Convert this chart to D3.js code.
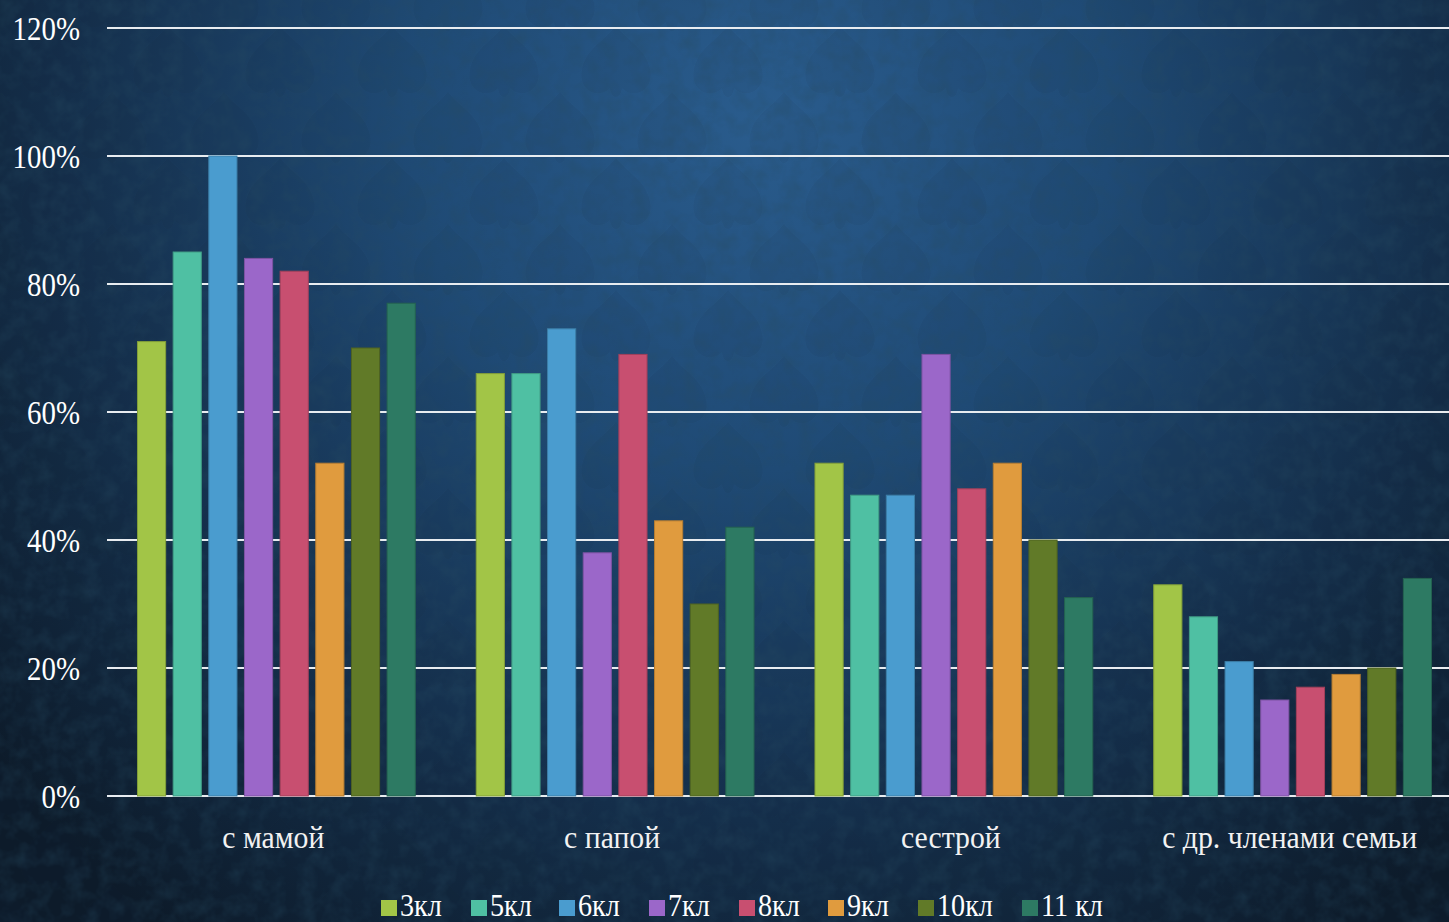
<!DOCTYPE html>
<html>
<head>
<meta charset="utf-8">
<script src="https://cdn.jsdelivr.net/npm/d3@7/dist/d3.min.js"></script>
<style>
  html, body { margin: 0; padding: 0; background: #0f1e2e; overflow: hidden; }
  svg { display: block; }
</style>
</head>
<body>
<svg class="svg"></svg>
<script>
const categories = ['с мамой', 'с папой', 'сестрой', 'с др. членами семьи'];
const series = ['3кл', '5кл', '6кл', '7кл', '8кл', '9кл', '10кл', '11 кл'];
const colors = ['#a2c547', '#4fc0a3', '#4a9ccf', '#9b67c9', '#c84f70', '#e09b3e', '#617a28', '#2d7a63'];
const yTicks = [0, 20, 40, 60, 80, 100, 120];

// values per class, one number per category (percent)
const v3 = [71, 66, 52, 33];
const v5 = [85, 66, 47, 28];
const v6 = [100, 73, 47, 21];
const v7 = [84, 38, 69, 15];
const v8 = [82, 69, 48, 17];
const v9 = [52, 43, 52, 19];
const v10 = [70, 30, 40, 20];
const v11 = [77, 42, 31, 34];
const values = [v3, v5, v6, v7, v8, v9, v10, v11];

const width = 1449;
const height = 922;
const font = "'Liberation Serif', 'DejaVu Serif', serif";

const svg = d3.select('.svg')
  .attr('width', width)
  .attr('height', height);

const defs = svg.append('defs');

const bg = defs.append('radialGradient')
  .attr('id', 'bg')
  .attr('gradientUnits', 'userSpaceOnUse')
  .attr('cx', 760).attr('cy', 120).attr('r', 1000);
bg.append('stop').attr('offset', '0%').attr('stop-color', '#2a5c8d');
bg.append('stop').attr('offset', '35%').attr('stop-color', '#1f4a75');
bg.append('stop').attr('offset', '70%').attr('stop-color', '#142e4a');
bg.append('stop').attr('offset', '100%').attr('stop-color', '#0d1b2a');

// grainy texture
const grain = defs.append('filter').attr('id', 'grain')
  .attr('x', 0).attr('y', 0).attr('width', '100%').attr('height', '100%');
grain.append('feTurbulence')
  .attr('type', 'fractalNoise')
  .attr('baseFrequency', 0.06)
  .attr('numOctaves', 3)
  .attr('seed', 4);
grain.append('feColorMatrix')
  .attr('values', '0 0 0 0 0.02  0 0 0 0 0.07  0 0 0 0 0.12  0 0 0 -1.6 1.0');

// rough damask motif
const pat = defs.append('pattern')
  .attr('id', 'damask')
  .attr('patternUnits', 'userSpaceOnUse')
  .attr('width', 112).attr('height', 132);
const motif = pat.append('g').attr('fill', '#061524').attr('opacity', 0.06);
[[56, 66], [0, 0], [112, 0], [0, 132], [112, 132]].forEach(([cx, cy]) => {
  motif.append('path')
    .attr('d', `M${cx},${cy - 40} C${cx + 12},${cy - 24} ${cx + 30},${cy - 18} ${cx + 34},${cy + 4}
      C${cx + 38},${cy + 24} ${cx + 18},${cy + 34} ${cx + 6},${cy + 22}
      C${cx + 4},${cy + 34} ${cx - 4},${cy + 34} ${cx - 6},${cy + 22}
      C${cx - 18},${cy + 34} ${cx - 38},${cy + 24} ${cx - 34},${cy + 4}
      C${cx - 30},${cy - 18} ${cx - 12},${cy - 24} ${cx},${cy - 40}Z`);
});

svg.append('rect').attr('width', width).attr('height', height).attr('fill', 'url(#bg)');
svg.append('rect').attr('width', width).attr('height', height).attr('fill', 'url(#damask)');
svg.append('rect').attr('width', width).attr('height', height)
  .attr('filter', 'url(#grain)').attr('opacity', 0.4);

const x0 = d3.scaleBand()
  .domain(categories)
  .range([107, 1462])
  .paddingInner(0.18)
  .paddingOuter(0.09);

const x1 = d3.scaleBand()
  .domain(series)
  .range([0, x0.bandwidth()])
  .paddingInner(0.21);

const y = d3.scaleLinear()
  .domain([0, 120])
  .range([796, 28]);

// gridlines + labels
const grid = svg.append('g');
grid.selectAll('line')
  .data(yTicks)
  .join('line')
  .attr('x1', 107)
  .attr('x2', width)
  .attr('y1', d => y(d))
  .attr('y2', d => y(d))
  .attr('stroke', '#e8ecf0')
  .attr('stroke-width', 2);

const yAxis = d3.axisLeft(y)
  .tickValues(yTicks)
  .tickFormat(d => d + '%')
  .tickSize(0)
  .tickPadding(0);

svg.append('g')
  .attr('transform', 'translate(80,0)')
  .call(yAxis)
  .call(g => g.select('.domain').remove())
  .selectAll('text')
  .attr('x', 0)
  .attr('fill', '#ffffff')
  .attr('font-family', font)
  .attr('font-size', 34)
  .attr('dy', '0.34em')
  .attr('transform', 'scale(0.85,1)');

// bars
const groups = svg.append('g')
  .selectAll('g')
  .data(categories)
  .join('g')
  .attr('transform', d => `translate(${x0(d)},0)`);

groups.selectAll('rect')
  .data((c, ci) => series.map((s, si) => ({ s, si, v: values[si][ci] })))
  .join('rect')
  .attr('x', d => x1(d.s))
  .attr('y', d => y(d.v))
  .attr('width', x1.bandwidth())
  .attr('height', d => y(0) - y(d.v))
  .attr('fill', d => colors[d.si])
  .attr('stroke', d => d3.color(colors[d.si]).darker(0.6))
  .attr('stroke-width', 1);

// category labels
const xAxis = d3.axisBottom(x0).tickSize(0).tickPadding(0);
svg.append('g')
  .attr('transform', 'translate(-3,0)')
  .call(xAxis)
  .call(g => g.select('.domain').remove())
  .selectAll('text')
  .attr('y', 848)
  .attr('dy', 0)
  .attr('fill', '#f2f2f2')
  .attr('font-family', font)
  .attr('font-size', 31)
  .attr('transform', 'scale(0.96,1)');

// legend
const legendX = [381, 471, 559, 649, 739, 828, 918, 1022];
const legend = svg.append('g')
  .selectAll('g')
  .data(series)
  .join('g')
  .attr('transform', (d, i) => `translate(${legendX[i]},900)`);

legend.append('rect')
  .attr('width', 16)
  .attr('height', 16)
  .attr('fill', (d, i) => colors[i]);

legend.append('text')
  .attr('x', 19 / 0.88)
  .attr('y', 16)
  .attr('fill', '#ffffff')
  .attr('font-family', font)
  .attr('font-size', 32)
  .attr('transform', 'scale(0.88,1)')
  .text(d => d);
</script>
</body>
</html>
